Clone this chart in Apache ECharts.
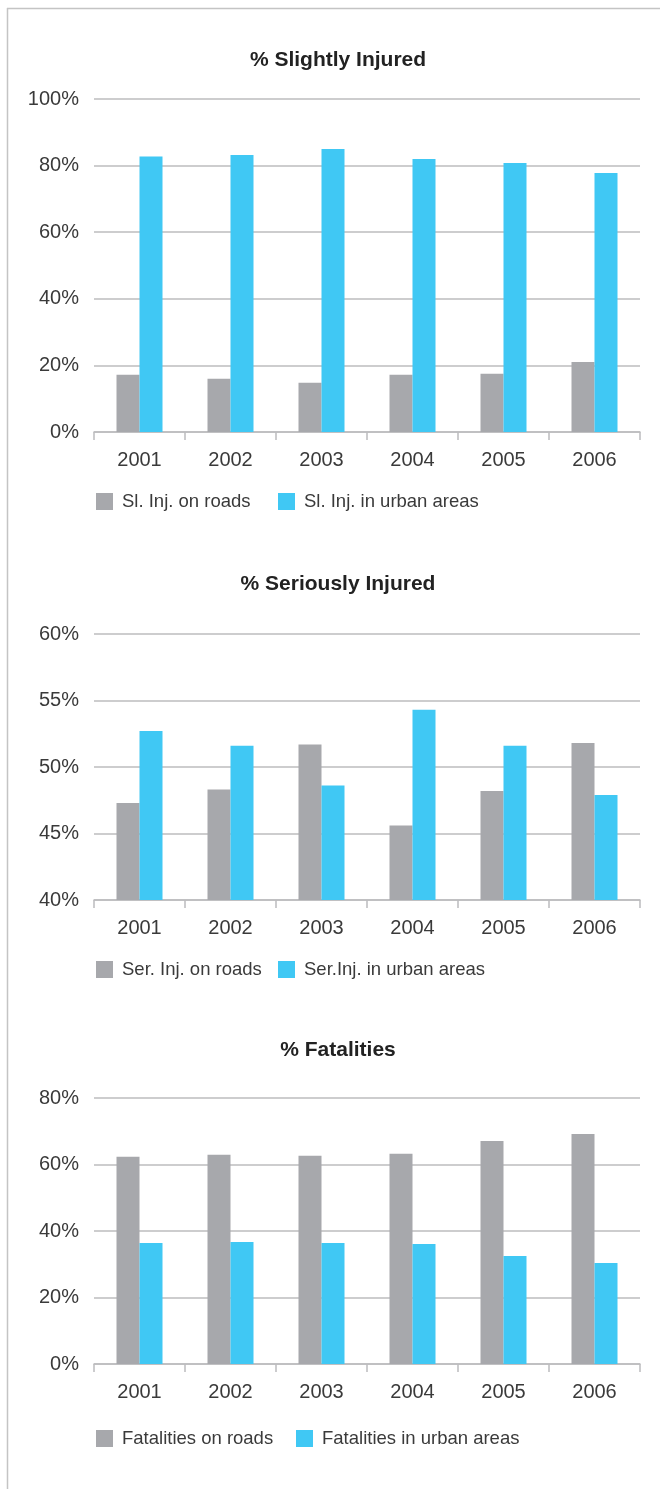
<!DOCTYPE html>
<html>
<head>
<meta charset="utf-8">
<script src="https://cdn.jsdelivr.net/npm/echarts@6/dist/echarts.min.js"></script>
<style>
html,body{margin:0;padding:0;background:#fff;}
#c{width:660px;height:1489px;}
</style>
</head>
<body>
<div id="c"></div>
<script>
const years = ['2001','2002','2003','2004','2005','2006'];

const titles = ['% Slightly Injured', '% Seriously Injured', '% Fatalities'];

const slRoads = [17.2, 16.0, 14.8, 17.2, 17.5, 21.0];
const slUrban = [82.7, 83.2, 85.0, 82.0, 80.8, 77.8];

const serRoads = [47.3, 48.3, 51.7, 45.6, 48.2, 51.8];
const serUrban = [52.7, 51.6, 48.6, 54.3, 51.6, 47.9];

const fatRoads = [62.3, 62.9, 62.6, 63.2, 67.1, 69.2];
const fatUrban = [36.4, 36.7, 36.4, 36.1, 32.5, 30.4];

const seriesNames = [
  ['Sl. Inj. on roads', 'Sl. Inj. in urban areas'],
  ['Ser. Inj. on roads', 'Ser.Inj. in urban areas'],
  ['Fatalities on roads', 'Fatalities in urban areas']
];
const yRanges = [[0, 100, 20], [40, 60, 5], [0, 80, 20]];
const dataSets = [[slRoads, slUrban], [serRoads, serUrban], [fatRoads, fatUrban]];

const GRAY = '#a7a8ac', BLUE = '#40c8f4', LINE = '#bcbcbe', TEXT = '#3a3a3a';
const FONT = '"Liberation Sans", Arial, Helvetica, sans-serif';

// layout per chart: [titleCenterY, gridTop, gridBottomY, legendCenterY, secondLegendX]
const layout = [
  [61, 99, 432, 501, 278],
  [585, 634, 900, 969, 278],
  [1051, 1098, 1364, 1438, 296]
];

const option = {
  animation: false,
  backgroundColor: '#fff',
  title: [], legend: [], grid: [], xAxis: [], yAxis: [], series: [],
  graphic: [
    { type: 'line', shape: { x1: 7.5, y1: 8, x2: 7.5, y2: 1489 }, style: { stroke: '#c4c4c4', lineWidth: 1.5 } },
    { type: 'line', shape: { x1: 7, y1: 8.5, x2: 660, y2: 8.5 }, style: { stroke: '#c4c4c4', lineWidth: 1.5 } }
  ]
};

for (let i = 0; i < 3; i++) {
  const [tY, gTop, gBot, lY, l2X] = layout[i];
  option.title.push({
    text: titles[i], left: 338, textAlign: 'center', top: tY - 11, padding: 0,
    textStyle: { fontFamily: FONT, fontSize: 21, fontWeight: 'bold', color: '#222' }
  });
  option.grid.push({ left: 94, right: 20, top: gTop, height: gBot - gTop, containLabel: false });
  option.xAxis.push({
    type: 'category', gridIndex: i, data: years,
    axisLine: { lineStyle: { color: LINE, width: 1.5 } },
    axisTick: { show: true, length: 8, lineStyle: { color: LINE, width: 1.5 } },
    axisLabel: { fontFamily: FONT, fontSize: 20, color: TEXT, margin: 18 }
  });
  option.yAxis.push({
    type: 'value', gridIndex: i, min: yRanges[i][0], max: yRanges[i][1], interval: yRanges[i][2],
    axisLine: { show: false }, axisTick: { show: false },
    splitLine: { lineStyle: { color: LINE, width: 1.5 } },
    axisLabel: { fontFamily: FONT, fontSize: 20, color: TEXT, margin: 15, formatter: '{value}%' }
  });
  [96, l2X].forEach((lx, k) => {
    option.legend.push({
      left: lx, top: lY - 9, itemWidth: 17, itemHeight: 17, padding: 0,
      icon: 'rect',
      data: [seriesNames[i][k]],
      textStyle: { fontFamily: FONT, fontSize: 18.5, color: TEXT, padding: [0, 0, 0, 4] }
    });
  });
  option.series.push({
    name: seriesNames[i][0], type: 'bar', xAxisIndex: i, yAxisIndex: i,
    data: dataSets[i][0], barWidth: 23, barGap: '0%',
    itemStyle: { color: GRAY }
  });
  option.series.push({
    name: seriesNames[i][1], type: 'bar', xAxisIndex: i, yAxisIndex: i,
    data: dataSets[i][1], barWidth: 23, barGap: '0%',
    itemStyle: { color: BLUE }
  });
}

const chart = echarts.init(document.getElementById('c'), null, { renderer: 'canvas' });
chart.setOption(option);
</script>
</body>
</html>
